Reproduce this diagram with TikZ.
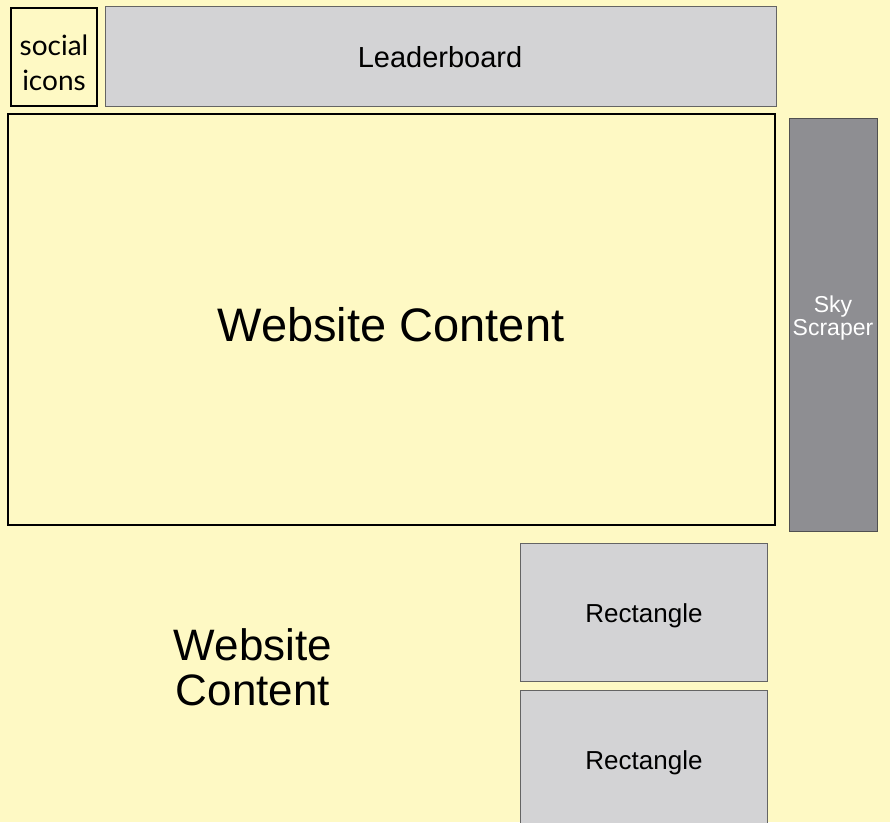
\documentclass[tikz,border=0pt]{standalone}
\usepackage{fontspec}
\setmainfont{Liberation Sans}
\newfontfamily\humanist{Lato}
\definecolor{pagebg}{RGB}{254,249,196}
\definecolor{adgray}{RGB}{211,211,213}
\definecolor{adedge}{RGB}{100,100,100}
\definecolor{skygray}{RGB}{142,142,146}
\definecolor{skyedge}{RGB}{80,80,80}
\begin{document}
\begin{tikzpicture}[x=1pt,y=-1pt,
  outlined/.style={draw=black,line width=2.5pt,fill=pagebg},
  adbox/.style={draw=adedge,line width=1pt,fill=adgray},
  skybox/.style={draw=skyedge,line width=1pt,fill=skygray},
  label/.style={inner sep=0pt,align=center}]
\useasboundingbox (0,0) rectangle (890,822);
\fill[pagebg] (0,0) rectangle (890,822);

% header row
\draw[outlined] (11,8) rectangle (97,106);
\node[label,font=\humanist\fontsize{28}{35}\selectfont] (social) at (54,63) {social\\icons};
\draw[adbox] (105,6) rectangle (776,106);
\node[label,font=\fontsize{29}{34}\selectfont] (leader) at (440,57) {Leaderboard};

% main content area
\draw[outlined] (8,114) rectangle (775,525);
\node[label,font=\fontsize{47}{56}\selectfont] (content) at (391,325) {Website Content};

% skyscraper ad
\draw[skybox] (789,118) rectangle (877,531);
\node[label,text=white,font=\fontsize{23}{23}\selectfont] (sky) at (833,318) {Sky\\Scraper};

% lower area
\node[label,font=\fontsize{44}{45}\selectfont] (content2) at (253,667) {Website\\Content};
\draw[adbox] (520,543) rectangle (767,681);
\node[label,font=\fontsize{26}{30}\selectfont] (rect1) at (644,616) {Rectangle};
\draw[adbox] (520,690) rectangle (767,830);
\node[label,font=\fontsize{26}{30}\selectfont] (rect2) at (644,763) {Rectangle};
\end{tikzpicture}
\end{document}
